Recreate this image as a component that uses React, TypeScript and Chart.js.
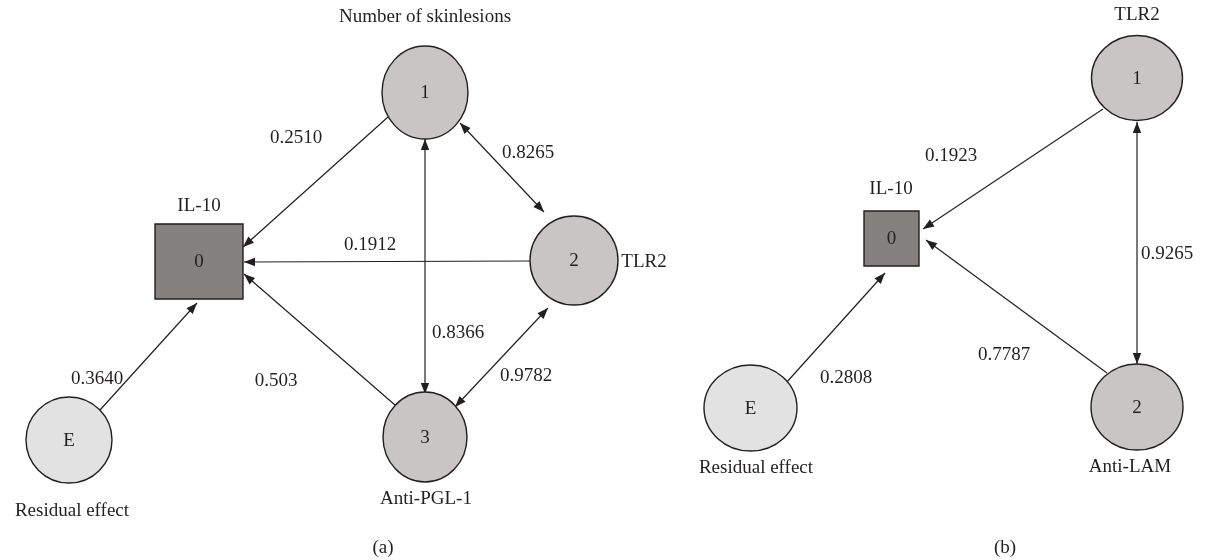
import { useEffect, useRef } from 'react';
import { Chart, registerables } from 'chart.js';

Chart.register(...registerables);

// ---- Nodes (diagram coordinates) ----
const nodeLabels = ['0', '1', '2', '3', 'E', '0', '1', '2', 'E'];
const nodeX = [199, 425, 574, 425, 69, 891.5, 1137, 1137, 750.5];
const nodeY = [261.5, 92.5, 260.5, 437, 440, 238.5, 78, 407, 408];
const nodeRx = [44, 43, 44, 42, 43, 27.5, 45.5, 46, 46.5];
const nodeRy = [37.5, 46.5, 44.5, 45, 43, 27.5, 42.5, 43, 43];
const nodeKind = ['box', 'latent', 'latent', 'latent', 'resid', 'box', 'latent', 'latent', 'resid'];

// ---- Node captions ----
const captionText = ['IL-10', 'Number of skinlesions', 'TLR2', 'Anti-PGL-1', 'Residual effect', 'IL-10', 'TLR2', 'Anti-LAM', 'Residual effect', '(a)', '(b)'];
const captionX = [199, 425, 644, 426, 72, 891, 1137, 1130, 756, 383, 1005];
const captionY = [206, 17, 262, 499, 511, 189, 15, 467, 468, 548, 548];

// ---- Paths ----
const pathCoef = ['0.2510', '0.1912', '0.503', '0.3640', '0.8366', '0.8265', '0.9782', '0.1923', '0.7787', '0.2808', '0.9265'];
const pathX1 = [388, 530, 395, 100, 425, 460, 455, 1103, 1107, 786, 1137];
const pathY1 = [117, 261, 405, 410, 139, 123, 407, 109, 373, 383, 122];
const pathX2 = [243, 244, 244, 197, 425, 544, 548, 923, 926, 885, 1137];
const pathY2 = [247, 262, 274, 303, 394, 212, 308, 229, 240, 273, 364];
const pathBoth = [false, false, false, false, true, true, true, false, false, false, true];
const coefX = [296, 370, 276, 97, 458, 528, 526, 951, 1004, 846, 1167];
const coefY = [138, 245, 381, 379, 333, 153, 376, 156, 355, 378, 254];

const INK = '#231f20';
const FONT = '19px "Liberation Serif", "DejaVu Serif", serif';
const fills: Record<string, string> = { box: '#85817f', latent: '#c9c5c4', resid: '#e3e2e2' };

const diagramPlugin = {
  id: 'pathDiagram',
  afterDatasetsDraw(chart: any) {
    const ctx = chart.ctx as CanvasRenderingContext2D;
    const xs = chart.scales.x;
    const ys = chart.scales.y;
    const px = (v: number) => xs.getPixelForValue(v);
    const py = (v: number) => ys.getPixelForValue(v);
    ctx.save();

    // arrowheads
    const head = (x1: number, y1: number, x2: number, y2: number) => {
      const a = Math.atan2(y2 - y1, x2 - x1);
      const L = 11, W = 4.2;
      ctx.beginPath();
      ctx.moveTo(x2, y2);
      ctx.lineTo(x2 - L * Math.cos(a) + W * Math.sin(a), y2 - L * Math.sin(a) - W * Math.cos(a));
      ctx.lineTo(x2 - L * Math.cos(a) - W * Math.sin(a), y2 - L * Math.sin(a) + W * Math.cos(a));
      ctx.closePath();
      ctx.fillStyle = INK;
      ctx.fill();
    };
    pathCoef.forEach((_, i) => {
      const x1 = px(pathX1[i]), y1 = py(pathY1[i]), x2 = px(pathX2[i]), y2 = py(pathY2[i]);
      head(x1, y1, x2, y2);
      if (pathBoth[i]) head(x2, y2, x1, y1);
    });

    // nodes
    nodeLabels.forEach((lab, i) => {
      const cx = px(nodeX[i]), cy = py(nodeY[i]);
      const rx = Math.abs(px(nodeX[i] + nodeRx[i]) - cx);
      const ry = Math.abs(py(nodeY[i] + nodeRy[i]) - cy);
      ctx.beginPath();
      if (nodeKind[i] === 'box') ctx.rect(cx - rx, cy - ry, rx * 2, ry * 2);
      else ctx.ellipse(cx, cy, rx, ry, 0, 0, Math.PI * 2);
      ctx.fillStyle = fills[nodeKind[i]];
      ctx.fill();
      ctx.lineWidth = 1.4;
      ctx.strokeStyle = INK;
      ctx.stroke();
      ctx.fillStyle = INK;
      ctx.font = FONT;
      ctx.textAlign = 'center';
      ctx.textBaseline = 'middle';
      ctx.fillText(lab, cx, cy + 1);
    });

    // captions and coefficients
    ctx.fillStyle = INK;
    ctx.font = FONT;
    ctx.textAlign = 'center';
    ctx.textBaseline = 'middle';
    captionText.forEach((t, i) => ctx.fillText(t, px(captionX[i]), py(captionY[i])));
    pathCoef.forEach((t, i) => ctx.fillText(t, px(coefX[i]), py(coefY[i])));
    ctx.restore();
  },
};

export default function App() {
  const ref = useRef<HTMLCanvasElement | null>(null);
  useEffect(() => {
    document.body.style.margin = '0';
    document.body.style.background = '#ffffff';
    if (!ref.current) return;
    const datasets = pathCoef.map((_, i) => ({
      data: [
        { x: pathX1[i], y: pathY1[i] },
        { x: pathX2[i], y: pathY2[i] },
      ],
      showLine: true,
      borderColor: INK,
      borderWidth: 1.2,
      pointRadius: 0,
      fill: false,
    }));
    const chart = new Chart(ref.current, {
      type: 'scatter',
      data: { datasets },
      options: {
        animation: false,
        responsive: false,
        devicePixelRatio: 1,
        layout: { padding: 0 },
        plugins: { legend: { display: false }, tooltip: { enabled: false } },
        events: [],
        scales: {
          x: { type: 'linear', min: 0, max: 1209, display: false },
          y: { type: 'linear', min: 0, max: 560, reverse: true, display: false },
        },
      },
      plugins: [diagramPlugin],
    });
    return () => chart.destroy();
  }, []);
  return (
    <div style={{ width: 1209, height: 560, background: '#fff' }}>
      <canvas ref={ref} width={1209} height={560} style={{ display: 'block' }} />
    </div>
  );
}
